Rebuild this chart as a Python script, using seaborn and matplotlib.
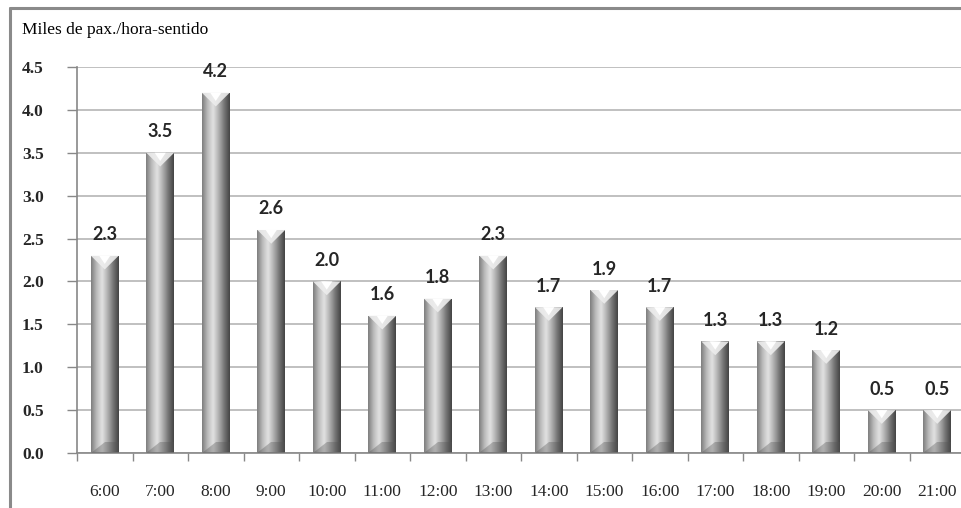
import numpy as np
import pandas as pd
import seaborn as sns
import matplotlib.pyplot as plt
from matplotlib.lines import Line2D
from matplotlib.patches import Polygon
from matplotlib.colors import LinearSegmentedColormap

horas = ['6:00', '7:00', '8:00', '9:00', '10:00', '11:00', '12:00', '13:00',
         '14:00', '15:00', '16:00', '17:00', '18:00', '19:00', '20:00', '21:00']
pax = [2.3, 3.5, 4.2, 2.6, 2.0, 1.6, 1.8, 2.3, 1.7, 1.9, 1.7, 1.3, 1.3, 1.2, 0.5, 0.5]
yticks = [0.0, 0.5, 1.0, 1.5, 2.0, 2.5, 3.0, 3.5, 4.0, 4.5]

df = pd.DataFrame({'hora': horas, 'pax': pax})

sns.set_style('white')
plt.rcParams['font.family'] = ['Liberation Serif', 'DejaVu Serif']

fig = plt.figure(figsize=(9.61, 5.08), dpi=100)
ax = fig.add_axes([77 / 961, 55 / 508, 888 / 961, 386 / 508])

sns.barplot(data=df, x='hora', y='pax', width=0.5, color='#b0b0b0', ax=ax)

# cylinder-like shading for every bar
cmap = LinearSegmentedColormap.from_list(
    'cyl', ['#7e7e7e', '#bcbcbc', '#e2e2e2', '#b0b0b0', '#767676', '#444444'])
grad = np.linspace(0, 1, 64).reshape(1, -1)
bev = 0.16
for p in ax.patches:
    x0, w, h = p.get_x(), p.get_width(), p.get_height()
    xc = x0 + w / 2
    p.set_facecolor('none')
    p.set_edgecolor('none')
    im = ax.imshow(grad, cmap=cmap, aspect='auto', extent=[x0, x0 + w, 0, h],
                   zorder=2, interpolation='bicubic')
    im.set_clip_path(p)
    ax.add_patch(Polygon([[x0, h], [x0 + w, h], [xc, h - bev]],
                         closed=True, facecolor='#ededed', edgecolor='none',
                         alpha=0.9, zorder=3))
    ax.add_patch(Polygon([[x0 + w * 0.3, h], [x0 + w * 0.7, h], [xc, h - bev * 0.6]],
                         closed=True, facecolor='white', edgecolor='none', zorder=3))
    ax.add_patch(Polygon([[x0, 0], [x0 + w, 0], [x0 + w, bev * 0.8], [xc, bev * 0.8]],
                         closed=True, facecolor='#555555', edgecolor='none',
                         alpha=0.35, zorder=3))

ax.set_xlim(-0.5, len(horas) - 0.5)
ax.set_ylim(0, 4.5)

ax.bar_label(ax.containers[0], labels=[f'{v:.1f}' for v in pax], padding=9,
             fontsize=13, fontweight='bold', family=['Lato', 'DejaVu Sans'])

ax.set_yticks(yticks)
ax.set_yticklabels([f'{v:.1f}' for v in yticks], fontweight='bold', fontsize=12.5)
ax.yaxis.grid(True, color='#b5b5b5', linewidth=1.2)
ax.set_axisbelow(True)
ax.tick_params(axis='y', length=7, width=1, color='#888888', pad=17, direction='out', left=True)
ax.set_xticks(range(len(horas)))
ax.set_xticklabels(horas, fontsize=12.5)
ax.set_xticks(np.arange(-0.5, len(horas), 1), minor=True)
ax.tick_params(axis='x', which='major', length=0, pad=22)
ax.tick_params(axis='x', which='minor', length=6, width=1, color='#888888', bottom=True)
ax.set_xlabel('')
ax.set_ylabel('')

for side in ['top', 'right']:
    ax.spines[side].set_visible(False)
for side in ['left', 'bottom']:
    ax.spines[side].set_color('#888888')
    ax.spines[side].set_linewidth(1.2)

# outer frame of the original chart
fig.add_artist(Line2D([10 / 961, 1], [1 - 8 / 508, 1 - 8 / 508], color='#8a8a8a', linewidth=2.2))
fig.add_artist(Line2D([10 / 961, 10 / 961], [0, 1 - 8 / 508], color='#8a8a8a', linewidth=2.2))

fig.text(22 / 961, 1 - 30 / 508, 'Miles de pax./hora-sentido', fontsize=12.5,
         va='center', ha='left', color='black')

fig.savefig('out.png', dpi=100)
